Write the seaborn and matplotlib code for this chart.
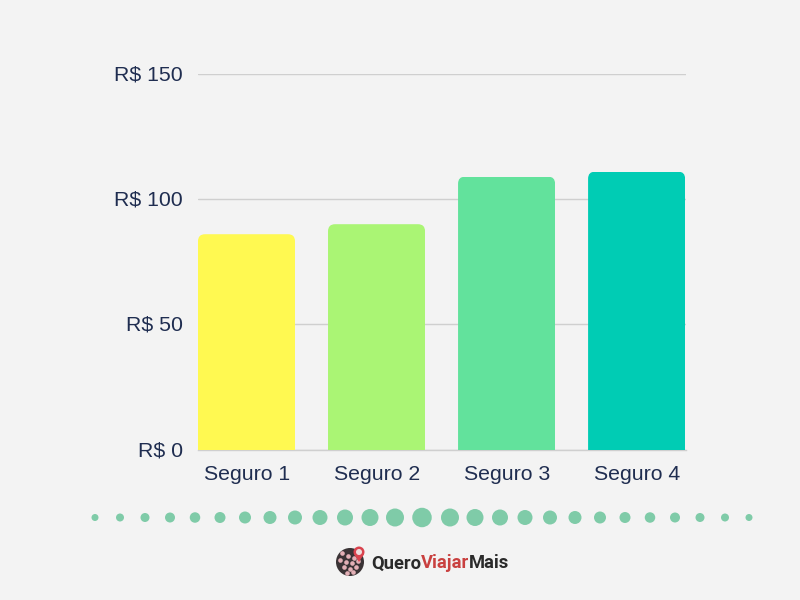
import matplotlib.pyplot as plt
import numpy as np
import pandas as pd
import seaborn as sns
from matplotlib.patches import Circle, FancyBboxPatch, Polygon
from matplotlib.transforms import IdentityTransform, ScaledTranslation

categories = ["Seguro 1", "Seguro 2", "Seguro 3", "Seguro 4"]
values = [86, 90, 109, 111]
bar_colors = ["#fff951", "#aaf574", "#62e29c", "#00ccb4"]
y_ticks = [0, 50, 100, 150]
y_labels = ["R$ 0", "R$ 50", "R$ 100", "R$ 150"]

# decorative dots under the chart, in pixels of the 800x600 picture
dot_x = [95, 120, 145, 170, 195, 220, 245, 270, 295, 320, 345, 370, 395, 422,
         450, 475, 500, 525, 550, 575, 600, 625, 650, 675, 700, 725, 749]
dot_d = [7, 8, 9, 10, 10.5, 11, 12, 13, 14, 15, 16, 17, 18, 19.5,
         18, 17, 16, 15, 14, 13, 12, 11, 10.5, 10, 9, 8, 7]

BG = "#f3f3f3"
TEXT = "#1f2d50"

sns.set_theme(style="white")
plt.rcParams["font.family"] = ["Liberation Sans", "DejaVu Sans"]

df = pd.DataFrame({"seguro": categories, "valor": values})

fig = plt.figure(figsize=(8, 6), dpi=100, facecolor=BG)
ax = fig.add_axes([198 / 800, (600 - 449.5) / 600, 488 / 800, 375.5 / 600])
ax.set_facecolor(BG)

sns.barplot(data=df, x="seguro", y="valor", hue="seguro", palette=bar_colors,
            order=categories, hue_order=categories, legend=False,
            width=0.746, saturation=1, linewidth=0, ax=ax, zorder=3)

ax.set_xlim(-0.373, 3.38)
ax.set_ylim(0, 150)
ax.set_xlabel("")
ax.set_ylabel("")
ax.set_yticks(y_ticks, y_labels)
ax.yaxis.grid(True, color="#cfcfcf", lw=1.0)
ax.set_axisbelow(True)
ax.tick_params(axis="y", length=0, pad=11, labelsize=15.3, labelcolor=TEXT)
ax.tick_params(axis="x", length=0, pad=11, labelsize=15.3, labelcolor=TEXT)
sns.despine(ax=ax, left=True, top=True, right=True)
ax.spines["bottom"].set_color("#cfcfcf")
ax.spines["bottom"].set_linewidth(1.0)

# nudge tick labels by one pixel
for label in ax.get_yticklabels():
    label.set_transform(label.get_transform() + ScaledTranslation(0, 1 / 100, fig.dpi_scale_trans))
for label in ax.get_xticklabels():
    label.set_transform(label.get_transform() + ScaledTranslation(1 / 100, 0, fig.dpi_scale_trans))

# round the top corners of the bars with a clip path
for bar in ax.patches:
    box = bar.get_window_extent(fig.canvas.get_renderer())
    clip = FancyBboxPatch((box.x0, box.y0 - 20), box.width, box.height + 20,
                          boxstyle="round,pad=0,rounding_size=7",
                          transform=IdentityTransform())
    bar.set_clip_path(clip)

# overlay in picture pixels for the dots and the logo
over = fig.add_axes([0, 0, 1, 1])
over.set_xlim(0, 800)
over.set_ylim(600, 0)
over.axis("off")
over.patch.set_alpha(0)

px_to_pt = 72 / 100
sns.scatterplot(x=dot_x, y=[517.5] * len(dot_x), s=[(d * px_to_pt) ** 2 for d in dot_d],
                color="#7fcba8", linewidth=0, ax=over, legend=False)

# logo
over.add_patch(Circle((350, 562), 14, color="#3a3335", lw=0))
globe_x = [342, 348, 354, 340, 346, 352, 358, 344, 350, 356, 347, 353]
globe_y = [553, 556, 558, 560, 562, 563, 561, 567, 569, 567, 573, 572]
over.scatter(globe_x, globe_y, s=11, color="#e3b0b6", linewidth=0)
over.add_patch(Polygon([(354, 554), (364, 554), (359, 562)], color="#d9434e", lw=0))
over.add_patch(Circle((359, 552), 5.5, color="#d9434e", lw=0))
over.add_patch(Circle((359, 552), 3, color="#f0dcdc", lw=0))

logo_font = "Roboto"
logo_size = 13.2
t1 = over.text(371, 563.5, "Quero", color="#2a2a2a", fontsize=logo_size, family=logo_font,
               fontweight="bold", va="center", ha="left")
fig.canvas.draw()
x1 = over.transData.inverted().transform(t1.get_window_extent().corners()[2])[0]
t2 = over.text(x1, 563.5, "Viajar", color="#c9403f", fontsize=logo_size, family=logo_font,
               fontweight="bold", va="center", ha="left")
fig.canvas.draw()
x2 = over.transData.inverted().transform(t2.get_window_extent().corners()[2])[0]
over.text(x2, 563.5, "Mais", color="#2a2a2a", fontsize=logo_size, family=logo_font,
          fontweight="bold", va="center", ha="left")

fig.savefig("out.png", dpi=100, facecolor=BG)
